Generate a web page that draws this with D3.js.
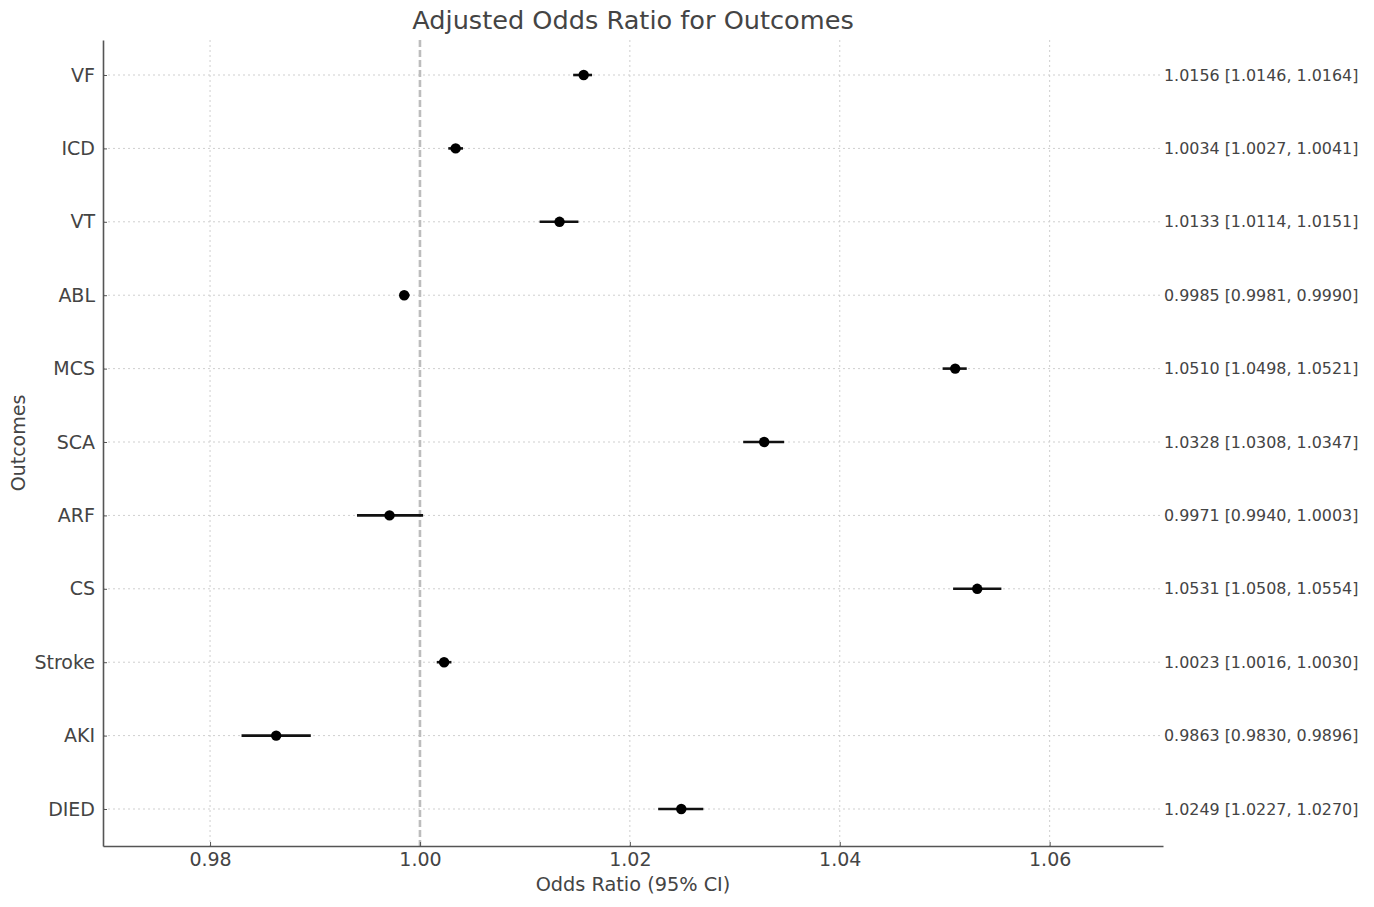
<!DOCTYPE html>
<html>
<head>
<meta charset="utf-8">
<script src="https://cdn.jsdelivr.net/npm/d3@7/dist/d3.min.js"></script>
<style>
  html, body { margin: 0; padding: 0; background: #fff; }
  svg { display: block; font-family: "DejaVu Sans", sans-serif; }
</style>
</head>
<body>
<svg id="chart" width="1374" height="907"></svg>
<script>
// ---- data ----
const outcomes = ["VF", "ICD", "VT", "ABL", "MCS", "SCA", "ARF", "CS", "Stroke", "AKI", "DIED"];
const oddsRatio = [1.0156, 1.0034, 1.0133, 0.9985, 1.0510, 1.0328, 0.9971, 1.0531, 1.0023, 0.9863, 1.0249];
const ciLower  = [1.0146, 1.0027, 1.0114, 0.9981, 1.0498, 1.0308, 0.9940, 1.0508, 1.0016, 0.9830, 1.0227];
const ciUpper  = [1.0164, 1.0041, 1.0151, 0.9990, 1.0521, 1.0347, 1.0003, 1.0554, 1.0030, 0.9896, 1.0270];
const xTicks = [0.98, 1.00, 1.02, 1.04, 1.06];
const refValue = 1.0;
const titleText = "Adjusted Odds Ratio for Outcomes";
const xLabel = "Odds Ratio (95% CI)";
const yLabel = "Outcomes";

(function () {
const rows = outcomes.map((o, i) => ({ name: o, or: oddsRatio[i], lo: ciLower[i], hi: ciUpper[i], idx: i }));

// ---- layout ----
const svg = d3.select("#chart");
const pL = 103, pR = 1163, pT = 40, pB = 846;
const x = d3.scaleLinear().domain([0.9698, 1.0708]).range([pL, pR]);
const y = d3.scaleLinear().domain([-0.477, outcomes.length - 1 + 0.504]).range([pT, pB]);

const textColor = "#444";

// grid lines (vertical)
svg.append("g").selectAll("line").data(xTicks).join("line")
  .attr("x1", d => x(d)).attr("x2", d => x(d))
  .attr("y1", pT).attr("y2", pB)
  .attr("stroke", "#cfcfcf").attr("stroke-width", 1).attr("stroke-dasharray", "2,3");

// grid lines (horizontal)
svg.append("g").selectAll("line").data(rows).join("line")
  .attr("x1", pL).attr("x2", pR)
  .attr("y1", d => y(d.idx)).attr("y2", d => y(d.idx))
  .attr("stroke", "#cfcfcf").attr("stroke-width", 1).attr("stroke-dasharray", "2,3");

// reference line
svg.append("line")
  .attr("x1", x(refValue)).attr("x2", x(refValue))
  .attr("y1", pT).attr("y2", pB)
  .attr("stroke", "#bdbdbd").attr("stroke-width", 2.6).attr("stroke-dasharray", "7,3");

// error bars
svg.append("g").selectAll("line").data(rows).join("line")
  .attr("x1", d => x(d.lo)).attr("x2", d => x(d.hi))
  .attr("y1", d => y(d.idx)).attr("y2", d => y(d.idx))
  .attr("stroke", "#111").attr("stroke-width", 2.6);

// points
svg.append("g").selectAll("circle").data(rows).join("circle")
  .attr("cx", d => x(d.or)).attr("cy", d => y(d.idx)).attr("r", 5.2)
  .attr("fill", "#000");

// axes
const xAxis = d3.axisBottom(x).tickValues(xTicks).tickFormat(d3.format(".2f")).tickSizeInner(-4).tickSizeOuter(0).tickPadding(7);
const gx = svg.append("g").attr("transform", `translate(0,${pB})`).call(xAxis);
gx.select(".domain").attr("stroke", "#555").attr("stroke-width", 1.6);
gx.selectAll(".tick line").attr("stroke", "#555");
gx.selectAll(".tick text").attr("fill", textColor).style("font-size", "19px").style("font-family", "DejaVu Sans");

const yAxis = d3.axisLeft(y).tickValues(rows.map(r => r.idx)).tickFormat(i => outcomes[i]).tickSizeInner(-4).tickSizeOuter(0).tickPadding(8);
const gy = svg.append("g").attr("transform", `translate(${pL},0)`).call(yAxis);
gy.select(".domain").attr("stroke", "#555").attr("stroke-width", 1.6);
gy.selectAll(".tick line").attr("stroke", "#555");
gy.selectAll(".tick text").attr("fill", textColor).style("font-size", "19px").style("font-family", "DejaVu Sans");

// annotations
const fmt = d3.format(".4f");
svg.append("g").selectAll("text").data(rows).join("text")
  .attr("x", pR + 1).attr("y", d => y(d.idx))
  .attr("dy", "0.35em")
  .attr("fill", textColor)
  .style("font-size", "15.9px")
  .text(d => `${fmt(d.or)} [${fmt(d.lo)}, ${fmt(d.hi)}]`);

// title
svg.append("text").attr("x", (pL + pR) / 2).attr("y", 29)
  .attr("text-anchor", "middle").attr("fill", textColor)
  .style("font-size", "25.6px").text(titleText);

// x label
svg.append("text").attr("x", (pL + pR) / 2).attr("y", 891)
  .attr("text-anchor", "middle").attr("fill", textColor)
  .style("font-size", "19.3px").text(xLabel);

// y label
svg.append("text").attr("transform", `translate(25,${(pT + pB) / 2}) rotate(-90)`)
  .attr("text-anchor", "middle").attr("fill", textColor)
  .style("font-size", "19px").text(yLabel);
})();
</script>
</body>
</html>
